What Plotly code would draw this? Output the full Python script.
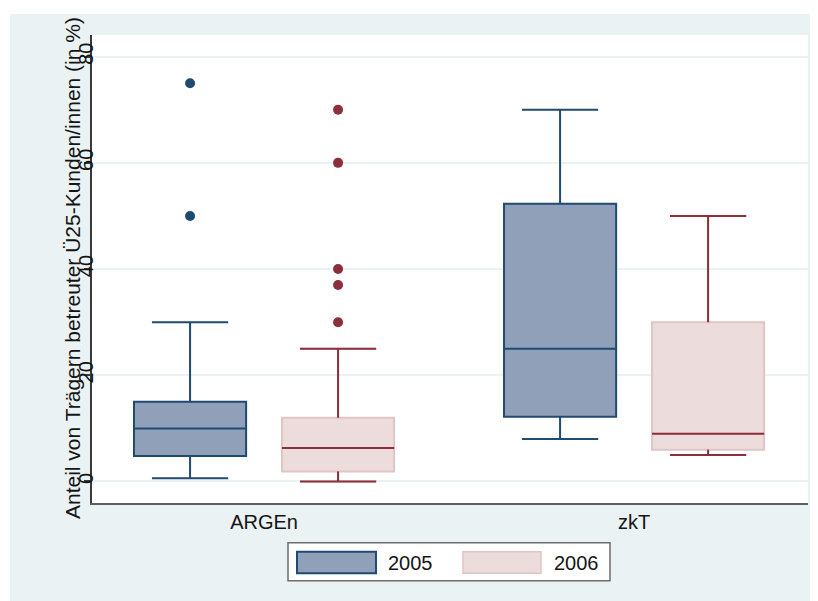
import plotly.graph_objects as go

# ---------------- data ----------------
categories = ["ARGEn", "zkT"]
years = ["2005", "2006"]

lower_2005 = [0.6, 8.0]
q1_2005 = [4.8, 12.2]
median_2005 = [10.0, 25.0]
q3_2005 = [15.0, 52.3]
upper_2005 = [30.0, 70.0]
outliers_2005 = [[50.0, 75.0], []]

lower_2006 = [0.0, 5.0]
q1_2006 = [1.9, 6.0]
median_2006 = [6.3, 9.0]
q3_2006 = [12.0, 30.0]
upper_2006 = [25.0, 50.0]
outliers_2006 = [[30.0, 37.0, 40.0, 60.0, 70.0], []]

y_ticks = [0, 20, 40, 60, 80]
y_title = "Anteil von Trägern betreuter Ü25-Kunden/innen (in %)"

# ---------------- styles ----------------
NAVY = "#1f4a72"
FILL05 = "#91a0b9"
MAROON = "#8c2f3b"
FILL06 = "#ecdcdc"
LINE06 = "#e0c5c5"
BG = "#EAF2F3"
TXT = "#151515"
FONT = "Liberation Sans, Arial, sans-serif"
FS = 20

BOX_W = 0.303
CAP = 0.68
OFF = 0.2
cat_pos = list(range(len(categories)))

# page is offset by the 8px body margin
PAGE_W, PAGE_H, BODY = 818, 601, 8
W, H = PAGE_W - BODY, PAGE_H - BODY
PLOT_L, PLOT_R, PLOT_T, PLOT_B = 92, 808, 35, 503   # page pixels
ML, MR, MT, MB = PLOT_L - BODY, PAGE_W - PLOT_R, PLOT_T - BODY, PAGE_H - PLOT_B
PW, PH = PLOT_R - PLOT_L, PLOT_B - PLOT_T


def px(x):
    return (x - PLOT_L) / PW


def py(y):
    return (PLOT_B - y) / PH


fig = go.Figure()

x05 = [p - OFF for p in cat_pos]
x06 = [p + OFF for p in cat_pos]

fig.add_trace(go.Box(
    x=x05, q1=q1_2005, median=median_2005, q3=q3_2005,
    lowerfence=lower_2005, upperfence=upper_2005,
    width=BOX_W, whiskerwidth=CAP, fillcolor=FILL05,
    line=dict(color=NAVY, width=2), boxpoints=False,
    name=years[0], showlegend=False, hoverinfo="skip"))

fig.add_trace(go.Box(
    x=x06, q1=q1_2006, median=median_2006, q3=q3_2006,
    lowerfence=lower_2006, upperfence=upper_2006,
    width=BOX_W, whiskerwidth=CAP, fillcolor=FILL06,
    line=dict(color=LINE06, width=2), boxpoints=False,
    name=years[1], showlegend=False, hoverinfo="skip"))

# maroon whiskers, caps and medians for 2006 (outline stays light)
lx, ly = [], []
for i, xc in enumerate(x06):
    hw = BOX_W / 2
    cw = BOX_W * CAP / 2
    lx += [xc, xc, None, xc - cw, xc + cw, None]
    ly += [q3_2006[i], upper_2006[i], None, upper_2006[i], upper_2006[i], None]
    lx += [xc, xc, None, xc - cw, xc + cw, None]
    ly += [q1_2006[i], lower_2006[i], None, lower_2006[i], lower_2006[i], None]
    lx += [xc - hw, xc + hw, None]
    ly += [median_2006[i], median_2006[i], None]
fig.add_trace(go.Scatter(x=lx, y=ly, mode="lines",
                         line=dict(color=MAROON, width=2),
                         showlegend=False, hoverinfo="skip"))

# outliers
for xs, outs, col in [(x05, outliers_2005, NAVY), (x06, outliers_2006, MAROON)]:
    ox, oy = [], []
    for xc, vals in zip(xs, outs):
        ox += [xc] * len(vals)
        oy += vals
    fig.add_trace(go.Scatter(x=ox, y=oy, mode="markers",
                             marker=dict(color=col, size=10),
                             showlegend=False, hoverinfo="skip"))

shapes = [
    dict(type="rect", xref="paper", yref="paper", x0=px(BODY), x1=px(10),
         y0=py(PAGE_H), y1=py(BODY), fillcolor="white", line=dict(width=0), layer="below"),
    dict(type="rect", xref="paper", yref="paper", x0=px(BODY), x1=px(PAGE_W),
         y0=py(14), y1=py(BODY), fillcolor="white", line=dict(width=0), layer="below"),
    # legend frame
    dict(type="rect", xref="paper", yref="paper", x0=px(288), x1=px(610),
         y0=py(580.7), y1=py(542.7), fillcolor="white",
         line=dict(color="#6d6d6d", width=1.5)),
    dict(type="rect", xref="paper", yref="paper", x0=px(297), x1=px(376),
         y0=py(573.3), y1=py(551.7), fillcolor=FILL05,
         line=dict(color=NAVY, width=2)),
    dict(type="rect", xref="paper", yref="paper", x0=px(463), x1=px(541),
         y0=py(573.3), y1=py(551.7), fillcolor=FILL06,
         line=dict(color=LINE06, width=1.5)),
]

annotations = [
    dict(text=years[0], x=px(386), y=py(562.5), xref="paper", yref="paper",
         xanchor="left", yanchor="middle", showarrow=False,
         font=dict(family=FONT, size=FS, color=TXT)),
    dict(text=years[1], x=px(552), y=py(562.5), xref="paper", yref="paper",
         xanchor="left", yanchor="middle", showarrow=False,
         font=dict(family=FONT, size=FS, color=TXT)),
    dict(text=y_title, x=px(72), y=py(268), xref="paper", yref="paper",
         xanchor="center", yanchor="middle", textangle=-90, showarrow=False,
         font=dict(family=FONT, size=21, color=TXT)),
]

fig.update_layout(
    width=W, height=H,
    margin=dict(l=ML, r=MR, t=MT, b=MB, pad=0),
    paper_bgcolor=BG, plot_bgcolor="white",
    font=dict(family=FONT, size=FS, color=TXT),
    showlegend=False,
    shapes=shapes, annotations=annotations,
    xaxis=dict(range=[-0.465, 1.470], tickvals=cat_pos, ticktext=categories,
               showgrid=False, zeroline=False, showline=True,
               linecolor="#5e5e5e", linewidth=2, ticks="",
               tickfont=dict(family=FONT, size=FS, color=TXT)),
    yaxis=dict(range=[-4.05, 84.08], tickvals=y_ticks, tickangle=-90,
               showgrid=True, gridcolor=BG, gridwidth=2, zeroline=False,
               showline=True, linecolor="#3a3a3a", linewidth=1.5,
               ticks="outside", ticklen=6, tickcolor="#3a3a3a", tickwidth=1.5,
               ticklabelstandoff=-17,
               tickfont=dict(family=FONT, size=FS, color=TXT)),
)

fig.write_html("out.html")
